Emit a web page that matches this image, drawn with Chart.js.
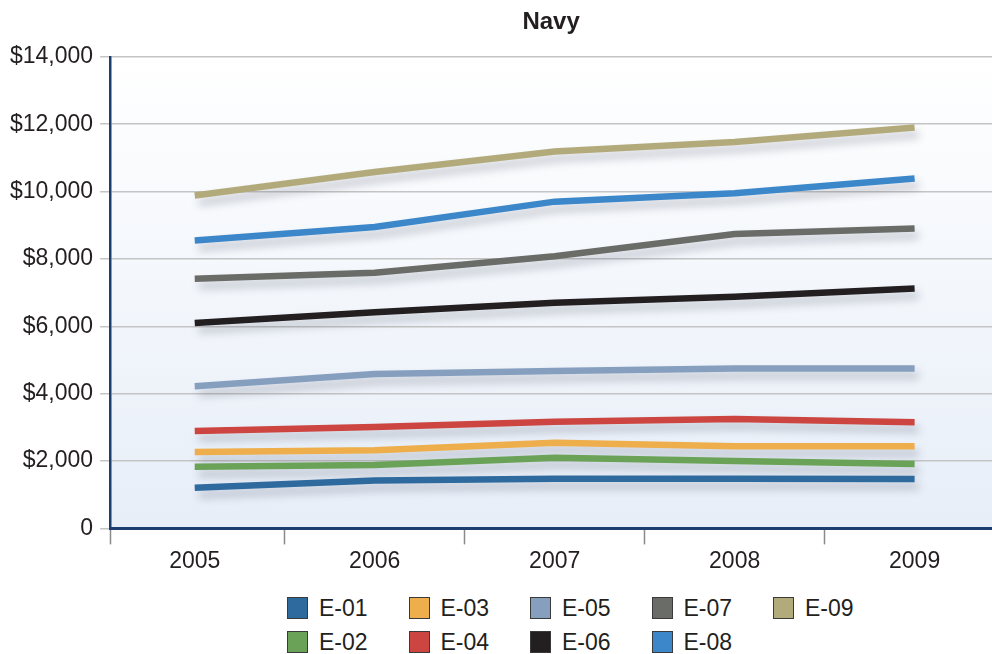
<!DOCTYPE html>
<html>
<head>
<meta charset="utf-8">
<script src="https://cdn.jsdelivr.net/npm/chart.js@4/dist/chart.umd.min.js"></script>
<style>
    html, body { margin: 0; padding: 0; background: #fff; overflow: hidden; }
    #wrap { position: relative; width: 992px; height: 654px; }
    #chart { position: absolute; left: 0; top: 0; }
    #legend {
        position: absolute; left: 287px; top: 597px;
        display: grid; grid-template-columns: repeat(5, 121.5px); row-gap: 12px;
        font-family: "Liberation Sans", Arial, sans-serif; font-size: 23px; color: #231f20;
    }
    .item { display: flex; align-items: center; height: 22px; }
    .swatch { width: 21px; height: 22px; border: 1px solid #3a3a3a; margin-right: 11px; box-sizing: border-box; }
</style>
</head>
<body>
<div id="wrap">
    <canvas id="chart" width="992" height="578"></canvas>
    <div id="legend"></div>
</div>
<script>
// Navy pay grades, yearly amounts
const years = [2005, 2006, 2007, 2008, 2009];
const e01 = [1210, 1420, 1475, 1475, 1470];
const e02 = [1830, 1880, 2100, 2000, 1910];
const e03 = [2270, 2320, 2540, 2440, 2440];
const e04 = [2890, 3010, 3165, 3250, 3150];
const e05 = [4220, 4580, 4670, 4750, 4750];
const e06 = [6100, 6420, 6700, 6880, 7120];
const e07 = [7410, 7590, 8080, 8740, 8900];
const e08 = [8550, 8950, 9700, 9950, 10390];
const e09 = [9880, 10580, 11190, 11470, 11900];

const yTicks = [0, 2000, 4000, 6000, 8000, 10000, 12000, 14000];
// small marks under the x axis sit between the years
const xTickMarks = [2005.5, 2006.5, 2007.5, 2008.5];

const series = [
    { label: 'E-01', data: e01, color: '#2e6a9e' },
    { label: 'E-02', data: e02, color: '#6aa357' },
    { label: 'E-03', data: e03, color: '#edae4b' },
    { label: 'E-04', data: e04, color: '#cc4540' },
    { label: 'E-05', data: e05, color: '#869fbf' },
    { label: 'E-06', data: e06, color: '#231f20' },
    { label: 'E-07', data: e07, color: '#6a6c68' },
    { label: 'E-08', data: e08, color: '#3b87c9' },
    { label: 'E-09', data: e09, color: '#b3aa7c' }
];

const X_MIN = 2004.53;
const X_MAX = 2009.43;
const FONT = '"Liberation Sans", Arial, sans-serif';

// Soft blue wash behind the plot
const plotBackground = {
    id: 'plotBackground',
    beforeDraw(chart) {
        const { ctx, chartArea: a } = chart;
        const g = ctx.createLinearGradient(0, a.top, 0, a.bottom);
        g.addColorStop(0, '#ffffff');
        g.addColorStop(1, '#e7eef8');
        ctx.save();
        ctx.fillStyle = g;
        ctx.fillRect(a.left, a.top, a.right - a.left, a.bottom - a.top);
        ctx.restore();
    }
};

// Drop shadow under the lines
const lineShadow = {
    id: 'lineShadow',
    beforeDatasetsDraw(chart) {
        const ctx = chart.ctx;
        ctx.save();
        ctx.shadowColor = 'rgba(60, 70, 90, 0.28)';
        ctx.shadowBlur = 9;
        ctx.shadowOffsetX = 4;
        ctx.shadowOffsetY = 7;
    },
    afterDatasetsDraw(chart) {
        chart.ctx.restore();
    }
};

new Chart(document.getElementById('chart'), {
    type: 'line',
    data: {
        datasets: series.map(s => ({
            label: s.label,
            data: s.data.map((v, i) => ({ x: years[i], y: v })),
            borderColor: s.color,
            backgroundColor: s.color,
            borderWidth: 6.5,
            borderCapStyle: 'butt',
            pointRadius: 0,
            tension: 0,
            fill: false
        }))
    },
    options: {
        responsive: false,
        animation: false,
        layout: { padding: { top: 8, left: 3, right: 0, bottom: 0 } },
        plugins: {
            legend: { display: false },
            tooltip: { enabled: false },
            title: {
                display: true,
                text: 'Navy',
                fullSize: false,
                color: '#231f20',
                font: { family: FONT, size: 24, weight: 'bold' },
                padding: { top: 0, bottom: 20 }
            }
        },
        scales: {
            x: {
                type: 'linear',
                min: X_MIN,
                max: X_MAX,
                afterBuildTicks(scale) {
                    scale.ticks = [X_MIN, ...years, ...xTickMarks]
                        .sort((a, b) => a - b)
                        .map(v => ({ value: v }));
                },
                grid: {
                    drawOnChartArea: false,
                    drawTicks: true,
                    tickLength: 16,
                    tickWidth: 1.5,
                    tickColor: ctx => years.includes(ctx.tick.value) ? 'rgba(0,0,0,0)' : '#8a8a8a'
                },
                border: { color: '#1c3e6e', width: 3 },
                ticks: {
                    autoSkip: false,
                    maxRotation: 0,
                    padding: 3,
                    color: '#231f20',
                    font: { family: FONT, size: 23 },
                    callback: v => years.includes(v) ? String(v) : ''
                }
            },
            y: {
                min: 0,
                max: 14000,
                afterBuildTicks(scale) {
                    scale.ticks = yTicks.map(v => ({ value: v }));
                },
                grid: {
                    color: '#c4c4c4',
                    lineWidth: 1.5,
                    tickLength: 10
                },
                border: { color: '#1c3e6e', width: 2.5 },
                ticks: {
                    padding: 7,
                    color: '#231f20',
                    font: { family: FONT, size: 23 },
                    callback: v => v === 0 ? '0' : '$' + v.toLocaleString('en-US')
                }
            }
        }
    },
    plugins: [plotBackground, lineShadow]
});

// Legend: odd grades on the first row, even grades on the second
const legendOrder = ['E-01', 'E-03', 'E-05', 'E-07', 'E-09', 'E-02', 'E-04', 'E-06', 'E-08'];
const legendEl = document.getElementById('legend');
legendOrder.forEach(name => {
    const s = series.find(d => d.label === name);
    const item = document.createElement('div');
    item.className = 'item';
    item.innerHTML = `<span class="swatch" style="background:${s.color}"></span><span>${s.label}</span>`;
    legendEl.appendChild(item);
});
</script>
</body>
</html>
